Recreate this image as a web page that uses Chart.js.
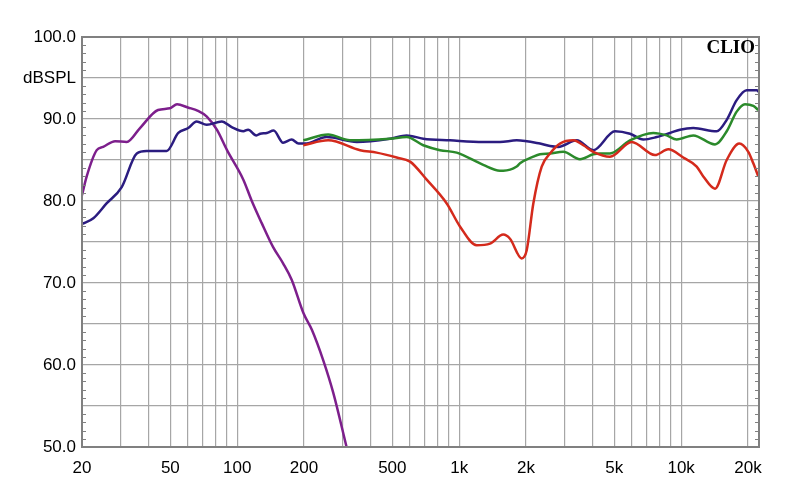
<!DOCTYPE html>
<html lang="en">
<head>
    <meta charset="UTF-8">
    <title>CLIO frequency response</title>
    <script src="https://cdn.jsdelivr.net/npm/chart.js"></script>
    <style>
        body { margin: 0; background: #fff; }
        canvas { display: block; }
    </style>
</head>
<body>
    <canvas id="clioChart" width="800" height="504"></canvas>

    <script>
        // Frequency (Hz) and level (dB SPL)
        const purpleFreq = [20, 21, 23.3, 24.9, 28.2, 31.8, 36.5, 44, 49.8, 53.6, 60, 66.6, 73, 81, 90, 106.6, 116, 129, 145, 161, 176, 199, 217, 244, 271, 311];
        const purpleDb   = [80.7, 83.0, 86.2, 86.6, 87.3, 87.2, 88.9, 91.1, 91.3, 91.8, 91.4, 91.0, 90.3, 88.7, 86.2, 82.6, 80.1, 77.3, 74.4, 72.4, 70.4, 66.3, 64.3, 60.6, 56.6, 50.0];

        const navyFreq = [20, 22.5, 25.8, 30.2, 35.3, 39.1, 48.1, 54.3, 60.2, 65.7, 72.9, 85.2, 94.5, 106.6, 112, 122, 127, 136, 146, 161, 176, 189, 202, 253, 346, 488, 580, 689, 909, 1284, 1527, 1816, 2312, 2566, 2796, 3384, 4020, 5034, 5882, 6752, 7758, 8908, 9880, 11340, 14456, 16040, 17788, 19730, 21892, 22420];
        const navyDb   = [77.2, 77.9, 79.7, 81.7, 85.8, 86.1, 86.1, 88.3, 88.9, 89.7, 89.3, 89.7, 89.0, 88.5, 88.7, 88.0, 88.2, 88.3, 88.6, 87.1, 87.5, 87.0, 87.0, 87.8, 87.2, 87.6, 88.0, 87.6, 87.4, 87.2, 87.2, 87.4, 87.0, 86.7, 86.6, 87.4, 86.2, 88.5, 88.2, 87.5, 87.8, 88.3, 88.7, 88.9, 88.5, 89.9, 92.3, 93.5, 93.5, 93.3];

        const greenFreq = [198.5, 257, 322, 488, 580, 689, 820, 975, 1284, 1527, 1580, 1816, 1880, 2158, 2312, 2566, 2944, 3502, 4020, 4308, 4778, 5882, 7490, 8606, 9546, 11340, 14206, 16040, 17788, 19388, 21132, 22252];
        const greenDb   = [87.4, 88.1, 87.4, 87.6, 87.8, 86.8, 86.2, 85.9, 84.4, 83.7, 83.7, 84.2, 84.6, 85.4, 85.7, 85.8, 86.0, 85.1, 85.7, 85.8, 85.8, 87.4, 88.3, 88.0, 87.5, 88.0, 86.9, 88.5, 90.9, 91.8, 91.6, 91.1];

        const redFreq = [198.5, 257, 358, 425, 523, 601, 714, 879, 1008, 1199, 1377, 1580, 1694, 1913, 2015, 2158, 2354, 2566, 2846, 3267, 3624, 4020, 4778, 5986, 7622, 8750, 10220, 11748, 12580, 14206, 16040, 18272, 20064, 21132, 22252];
        const redDb   = [86.8, 87.4, 86.2, 85.9, 85.3, 84.8, 82.6, 79.7, 76.9, 74.6, 74.8, 75.9, 75.4, 73.0, 74.0, 79.7, 84.2, 85.8, 87.0, 87.4, 86.8, 86.0, 85.4, 87.2, 85.6, 86.3, 85.3, 84.2, 83.0, 81.5, 85.0, 87.0, 86.0, 84.6, 83.0];

        // Axis ticks
        const xGridValues = [20, 30, 40, 50, 60, 70, 80, 90, 100, 200, 300, 400, 500, 600, 700, 800, 900,
                             1000, 2000, 3000, 4000, 5000, 6000, 7000, 8000, 9000, 10000, 20000];
        const xLabels = { 20: '20', 50: '50', 100: '100', 200: '200', 500: '500', 1000: '1k', 2000: '2k', 5000: '5k', 10000: '10k', 20000: '20k' };
        const yMin = 50, yMax = 100;

        function toPoints(freq, db) {
            return freq.map((f, i) => ({ x: f, y: db[i] }));
        }

        const gridGray = '#a6a6a6';
        const frameGray = '#808080';

        // frame, minor dB ticks and the CLIO mark
        const decorations = {
            id: 'decorations',
            afterDraw(chart) {
                const { ctx, chartArea: a, scales } = chart;
                ctx.save();
                ctx.strokeStyle = frameGray;
                ctx.lineWidth = 1;
                for (let v = yMin + 1; v < yMax; v++) {
                    if (v % 5 === 0) continue;
                    const y = Math.round(scales.y.getPixelForValue(v)) + 0.5;
                    ctx.beginPath();
                    ctx.moveTo(a.left, y); ctx.lineTo(a.left + 4, y);
                    ctx.moveTo(a.right, y); ctx.lineTo(a.right - 4, y);
                    ctx.stroke();
                }
                ctx.lineWidth = 2;
                ctx.strokeRect(a.left, a.top, a.right - a.left, a.bottom - a.top);

                ctx.fillStyle = '#000';
                ctx.font = 'bold 19px "Liberation Serif", "Times New Roman", serif';
                ctx.textAlign = 'right';
                ctx.textBaseline = 'alphabetic';
                ctx.fillText('CLIO', a.right - 4, a.top + 16);
                ctx.restore();
            }
        };

        const ctx = document.getElementById('clioChart').getContext('2d');

        const chart = new Chart(ctx, {
            type: 'line',
            data: {
                datasets: [
                    { label: 'red', data: toPoints(redFreq, redDb), borderColor: '#d42a1c', order: 1 },
                    { label: 'green', data: toPoints(greenFreq, greenDb), borderColor: '#2b8a2b', order: 2 },
                    { label: 'navy', data: toPoints(navyFreq, navyDb), borderColor: '#2b1c80', order: 3 },
                    { label: 'purple', data: toPoints(purpleFreq, purpleDb), borderColor: '#7d1f8c', order: 4 },
                ],
            },
            options: {
                responsive: false,
                animation: false,
                datasets: {
                    line: {
                        borderWidth: 2.5,
                        pointRadius: 0,
                        tension: 0.35,
                        cubicInterpolationMode: 'monotone',
                        fill: false,
                    },
                },
                layout: { padding: { left: 0, top: 37, right: 41, bottom: 0 } },
                plugins: {
                    legend: { display: false },
                    tooltip: { enabled: false },
                },
                scales: {
                    x: {
                        type: 'logarithmic',
                        min: 20,
                        max: 22420,
                        afterBuildTicks(scale) {
                            scale.ticks = xGridValues.map(v => ({ value: v }));
                        },
                        afterFit(scale) { scale.height = 57; },
                        ticks: {
                            autoSkip: false,
                            maxRotation: 0,
                            padding: 11,
                            color: '#000',
                            font: { family: '"Liberation Sans", Arial, sans-serif', size: 17 },
                            callback: (value) => xLabels[value] || '',
                        },
                        grid: { color: gridGray, lineWidth: 1.2, drawTicks: false },
                        border: { display: false },
                    },
                    y: {
                        type: 'linear',
                        min: yMin,
                        max: yMax,
                        afterFit(scale) { scale.width = 82; },
                        ticks: {
                            stepSize: 5,
                            padding: 6,
                            color: '#000',
                            font: { family: '"Liberation Sans", Arial, sans-serif', size: 17 },
                            callback: (value) => value % 10 === 0 ? value.toFixed(1) : (value === 95 ? 'dBSPL' : ''),
                        },
                        grid: { color: gridGray, lineWidth: 1.2, drawTicks: false },
                        border: { display: false },
                    },
                },
            },
            plugins: [decorations],
        });
    </script>
</body>
</html>
